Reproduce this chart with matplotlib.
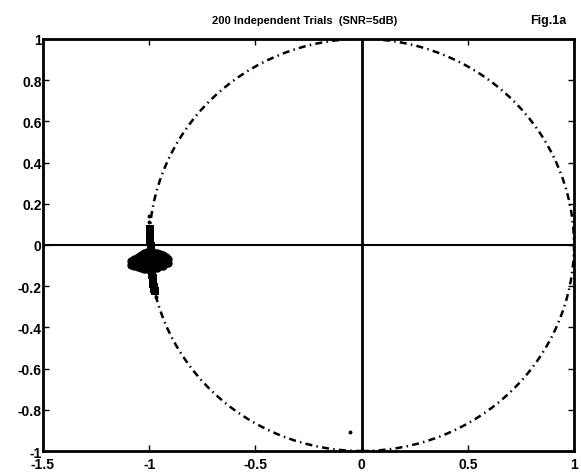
import matplotlib
matplotlib.use("Agg")
import matplotlib.pyplot as plt
from matplotlib.patches import Circle

# estimated root positions from the 200 trials
bar_x = [-0.996, -0.995, -0.996, -0.994, -0.993, -0.992, -0.991, -0.990, -0.989, -0.988,
         -0.986, -0.985, -0.983, -0.982, -0.980, -0.978, -0.976, -0.974]
bar_y = [0.075, 0.055, 0.035, 0.015, -0.005, -0.025, -0.045, -0.065, -0.085, -0.105,
         -0.125, -0.145, -0.160, -0.175, -0.190, -0.205, -0.215, -0.225]

blob_x = [-1.085, -1.085, -1.070, -1.070, -1.055, -1.055, -1.055, -1.040, -1.040, -1.040,
          -1.025, -1.025, -1.025, -1.025, -1.010, -1.010, -1.010, -1.010,
          -0.995, -0.995, -0.995, -0.995, -0.980, -0.980, -0.980, -0.980,
          -0.965, -0.965, -0.965, -0.965, -0.950, -0.950, -0.950,
          -0.935, -0.935, -0.935, -0.920, -0.920, -0.910, -0.910]
blob_y = [-0.080, -0.095, -0.070, -0.100, -0.060, -0.080, -0.105, -0.050, -0.075, -0.110,
          -0.040, -0.065, -0.090, -0.115, -0.035, -0.060, -0.085, -0.115,
          -0.035, -0.060, -0.085, -0.120, -0.035, -0.060, -0.085, -0.115,
          -0.040, -0.065, -0.090, -0.110, -0.045, -0.070, -0.100,
          -0.050, -0.075, -0.100, -0.060, -0.090, -0.070, -0.090]

stray_x = [-1.000, -0.999, -0.968, -0.057]
stray_y = [0.140, 0.112, -0.255, -0.910]

xticks = [-1.5, -1, -0.5, 0, 0.5, 1]
xlabels = ['-1.5', '-1', '-0.5', '0', '0.5', '1']
yticks = [-1, -0.8, -0.6, -0.4, -0.2, 0, 0.2, 0.4, 0.6, 0.8, 1]
ylabels = ['-1', '-0.8', '-0.6', '-0.4', '-0.2', '0', '0.2', '0.4', '0.6', '0.8', '1']

plt.rcParams['font.family'] = ['Liberation Sans', 'DejaVu Sans']

fig = plt.figure(figsize=(5.81, 4.77), dpi=100)
ax = fig.add_axes([0.074, 0.0524, 0.914, 0.864])

# unit circle
ax.add_patch(Circle((0, 0), 1, fill=False, color='black', linewidth=1.8,
                    linestyle=(0, (2.8, 1.7, 0.6, 1.7))))
ax.axhline(0, color='black', linewidth=1.5)
ax.axvline(0, color='black', linewidth=2)

ax.plot(bar_x, bar_y, 's', color='black', markersize=6, markeredgewidth=0)
ax.plot(blob_x, blob_y, 'o', color='black', markersize=6, markeredgewidth=0)
ax.plot(stray_x, stray_y, 'o', color='black', markersize=2.8, markeredgewidth=0)

ax.set_xlim(-1.5, 1)
ax.set_ylim(-1, 1)
ax.set_xticks(xticks)
ax.set_xticklabels(xlabels, fontweight='bold', fontsize=10)
ax.set_yticks(yticks)
ax.set_yticklabels(ylabels, fontweight='bold', fontsize=10)
ax.tick_params(direction='in', length=4, width=1, top=True, right=True)
ax.tick_params(axis='x', pad=4)
ax.tick_params(axis='y', pad=1)
for sp in ax.spines.values():
    sp.set_linewidth(2)

fig.text(0.525, 0.957, '200 Independent Trials  (SNR=5dB)', ha='center', va='center',
         fontsize=8, fontweight='bold')
fig.text(0.943, 0.957, 'Fig.1a', ha='center', va='center', fontsize=9, fontweight='bold')

fig.savefig('out.png', dpi=100)
